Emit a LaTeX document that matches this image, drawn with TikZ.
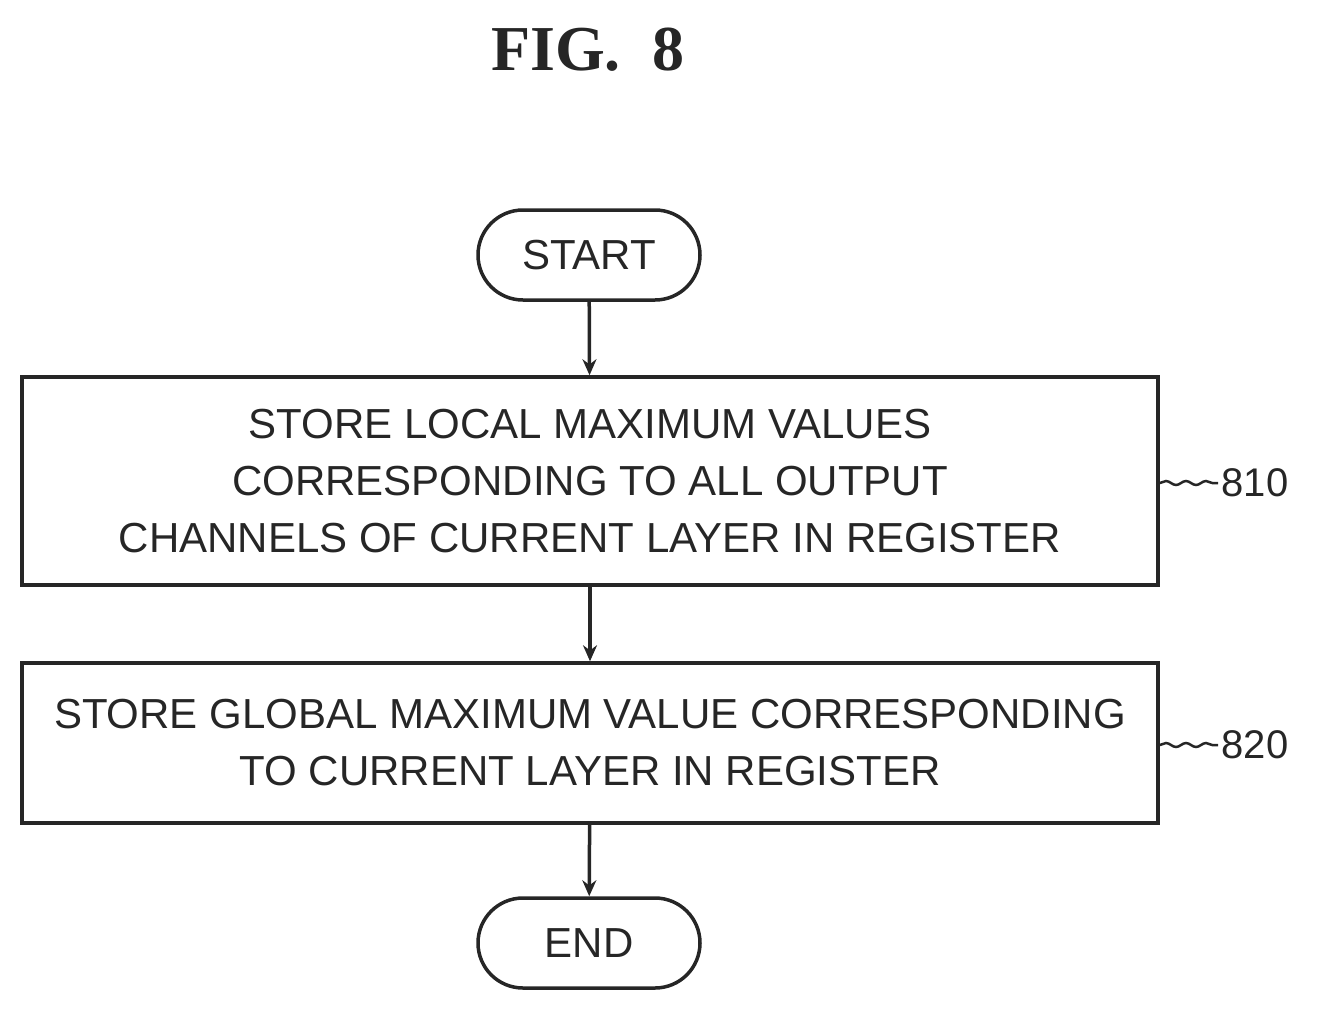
\documentclass[tikz,border=0pt]{standalone}
\usepackage{fontspec}
\setmainfont{Liberation Sans}
\newfontfamily\figfont{Liberation Serif}
\usetikzlibrary{arrows.meta,shapes.misc,decorations.pathmorphing}
\begin{document}
\begin{tikzpicture}[x=1pt,y=-1pt,
  lw/.style={line width=3.5pt,draw=black!85},
  txt/.style={font=\fontsize{42}{57}\selectfont,align=center,text=black!85},
  term/.style={lw,txt,rounded rectangle,minimum width=222pt,minimum height=90pt,inner sep=0pt},
  box/.style={lw,txt,rectangle,minimum width=1136pt,inner sep=0pt},
  arr/.style={lw,-{Stealth[length=16pt,width=14pt]}},
  lead/.style={line width=2.5pt,draw=black!85,decorate,decoration={snake,amplitude=2pt,segment length=20pt}},
  num/.style={font=\fontsize{40}{48}\selectfont,text=black!85,anchor=west}]
\useasboundingbox (0,0) rectangle (1319,1013);
\node[font=\figfont\bfseries\fontsize{64}{70}\selectfont,text=black!85] (title) at (588,50) {FIG.\ \ 8};
\node[term] (start) at (589,255) {START};
\node[box,minimum height=208pt] (b1) at (590,481) {STORE LOCAL MAXIMUM VALUES\\CORRESPONDING TO ALL OUTPUT\\CHANNELS OF CURRENT LAYER IN REGISTER};
\node[box,minimum height=160pt] (b2) at (590,743) {STORE GLOBAL MAXIMUM VALUE CORRESPONDING\\TO CURRENT LAYER IN REGISTER};
\node[term] (end) at (589,943) {END};
\draw[arr] (start) -- (b1);
\draw[arr] (b1) -- (b2);
\draw[arr] (b2) -- (end);
\node[num] (n1) at (1218,483) {810};
\node[num] (n2) at (1218,745) {820};
\draw[lead] (b1.east |- n1) -- (n1.west);
\draw[lead] (b2.east |- n2) -- (n2.west);
\end{tikzpicture}
\end{document}
